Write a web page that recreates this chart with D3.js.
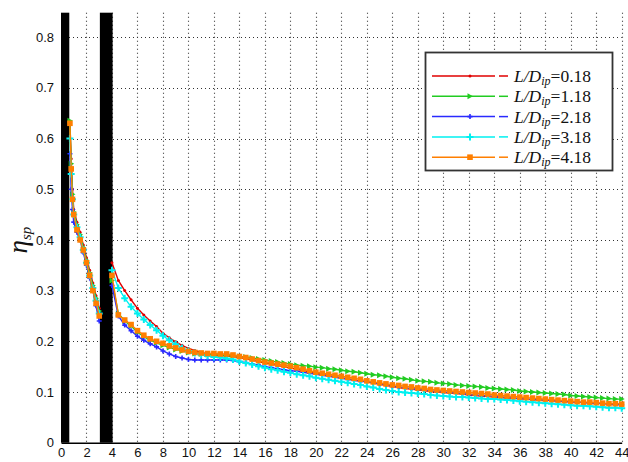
<!DOCTYPE html>
<html><head><meta charset="utf-8">
<script src="https://cdn.jsdelivr.net/npm/d3@7"></script>
<style>body{margin:0;background:#fff}svg{display:block}</style>
</head><body><svg id="c" width="628" height="462"></svg>
<script>
// ---------- data ----------
const seriesLabels = ["0.18","1.18","2.18","3.18","4.18"];
const xTickLabels = [0,2,4,6,8,10,12,14,16,18,20,22,24,26,28,30,32,34,36,38,40,42,44];
const yTickLabels = [0,0.1,0.2,0.3,0.4,0.5,0.6,0.7,0.8];
const blockedRanges = [[0,0.65],[3.05,4.05]];

// segment between the two blocked zones
const seg1X = [0.7,0.8,0.9,1.0,1.25,1.5,1.75,2.0,2.25,2.5,2.75,3.0];
const seg1Red    = [0.63,0.56,0.50,0.46,0.435,0.415,0.39,0.365,0.34,0.315,0.29,0.265];
const seg1Green  = [0.635,0.55,0.49,0.455,0.43,0.41,0.385,0.36,0.335,0.31,0.285,0.26];
const seg1Blue   = [0.57,0.50,0.46,0.435,0.415,0.40,0.375,0.35,0.325,0.30,0.27,0.24];
const seg1Cyan   = [0.60,0.53,0.48,0.45,0.425,0.405,0.38,0.355,0.33,0.305,0.28,0.255];
const seg1Orange = [0.63,0.54,0.48,0.45,0.42,0.40,0.38,0.355,0.33,0.30,0.275,0.25];

// segment after second blocked zone, x = 4, 4.5, ..., 44
const seg2X = d3.range(4, 44.001, 0.5);
const seg2Red = [0.355,0.320,0.300,0.282,0.265,0.252,0.240,0.229,0.216,0.207,0.199,0.192,0.186,0.182,0.178,0.175,0.173,0.172,0.171,0.170,0.168,0.166,0.163,0.160,0.157,0.155,0.152,0.150,0.147,0.145,0.142,0.140,0.137,0.135,0.132,0.130,0.128,0.126,0.124,0.122,0.120,0.118,0.115,0.113,0.111,0.109,0.107,0.106,0.104,0.103,0.101,0.100,0.099,0.098,0.097,0.096,0.094,0.093,0.092,0.091,0.090,0.089,0.088,0.088,0.087,0.086,0.085,0.084,0.084,0.083,0.082,0.081,0.081,0.080,0.079,0.079,0.078,0.077,0.077,0.076,0.076];
const seg2Green = [0.320,0.255,0.240,0.230,0.218,0.209,0.202,0.197,0.192,0.188,0.184,0.181,0.178,0.176,0.175,0.174,0.174,0.173,0.172,0.171,0.170,0.169,0.167,0.165,0.163,0.161,0.159,0.157,0.155,0.153,0.152,0.151,0.149,0.148,0.146,0.145,0.143,0.141,0.140,0.138,0.136,0.134,0.133,0.131,0.129,0.127,0.126,0.124,0.122,0.121,0.120,0.118,0.117,0.116,0.114,0.113,0.112,0.111,0.110,0.108,0.107,0.106,0.105,0.104,0.102,0.101,0.100,0.099,0.098,0.097,0.096,0.095,0.093,0.092,0.091,0.090,0.089,0.088,0.087,0.086,0.086];
const seg2Blue = [0.310,0.250,0.232,0.221,0.210,0.202,0.195,0.189,0.181,0.175,0.170,0.167,0.164,0.163,0.163,0.163,0.163,0.163,0.163,0.162,0.160,0.158,0.155,0.153,0.150,0.148,0.146,0.144,0.142,0.141,0.139,0.137,0.135,0.133,0.131,0.129,0.127,0.125,0.123,0.121,0.120,0.118,0.116,0.114,0.111,0.110,0.108,0.107,0.105,0.104,0.102,0.101,0.100,0.099,0.098,0.097,0.095,0.094,0.093,0.092,0.091,0.090,0.089,0.088,0.087,0.086,0.085,0.085,0.084,0.083,0.082,0.081,0.080,0.080,0.079,0.078,0.077,0.077,0.076,0.075,0.075];
const seg2Cyan = [0.340,0.305,0.285,0.268,0.255,0.243,0.232,0.222,0.211,0.202,0.194,0.187,0.181,0.177,0.173,0.171,0.169,0.168,0.166,0.164,0.160,0.157,0.154,0.151,0.148,0.145,0.143,0.140,0.138,0.135,0.133,0.131,0.128,0.126,0.124,0.122,0.120,0.118,0.116,0.114,0.111,0.109,0.106,0.104,0.102,0.100,0.099,0.098,0.097,0.096,0.094,0.093,0.092,0.091,0.090,0.090,0.089,0.088,0.087,0.086,0.086,0.085,0.084,0.083,0.082,0.081,0.080,0.079,0.078,0.077,0.076,0.075,0.074,0.073,0.073,0.072,0.071,0.070,0.069,0.069,0.068];
const seg2Orange = [0.330,0.252,0.242,0.233,0.221,0.212,0.205,0.200,0.196,0.191,0.187,0.183,0.180,0.178,0.177,0.176,0.176,0.175,0.175,0.173,0.170,0.168,0.165,0.162,0.159,0.157,0.155,0.153,0.151,0.148,0.145,0.142,0.139,0.137,0.135,0.133,0.131,0.129,0.127,0.125,0.122,0.120,0.118,0.116,0.114,0.113,0.111,0.110,0.108,0.107,0.105,0.104,0.103,0.102,0.101,0.100,0.099,0.098,0.097,0.096,0.094,0.093,0.092,0.091,0.090,0.089,0.088,0.087,0.086,0.085,0.084,0.083,0.082,0.081,0.080,0.080,0.079,0.078,0.077,0.077,0.076];

// ---------- styles ----------
const colors = ["#e00000","#22cc22","#2a2aff","#00f0f0","#ff7f00"];
const markers = ["dot","triR","star","plus","square"];

const series = seriesLabels.map((lab,i)=>({
  label: lab, color: colors[i], marker: markers[i],
  segs: [
    seg1X.map((x,j)=>({x, y:[seg1Red,seg1Green,seg1Blue,seg1Cyan,seg1Orange][i][j]})),
    seg2X.map((x,j)=>({x, y:[seg2Red,seg2Green,seg2Blue,seg2Cyan,seg2Orange][i][j]}))
  ]
}));

// ---------- layout ----------
const svg = d3.select("#c");
const X0 = 61, X1 = 621.7, Y0 = 442.7, Ytop = 12.7;
const x = d3.scaleLinear().domain([0,44]).range([X0,X1]);
const y = d3.scaleLinear().domain([0,0.8]).range([Y0, Y0 - 0.8*507]);
const fontSans = "'Liberation Sans', Arial, sans-serif";
const fontSerif = "'Liberation Serif', 'Times New Roman', serif";

// grid
const grid = svg.append("g").attr("stroke","#333").attr("stroke-width",1.1).attr("stroke-dasharray","1,3");
xTickLabels.filter(v=>v>0).forEach(v=>{
  grid.append("line").attr("x1",Math.round(x(v))+0.5).attr("x2",Math.round(x(v))+0.5)
    .attr("y1",Ytop).attr("y2",Y0);
});
yTickLabels.filter(v=>v>0).forEach(v=>{
  grid.append("line").attr("y1",Math.round(y(v))+0.5).attr("y2",Math.round(y(v))+0.5)
    .attr("x1",X0).attr("x2",X1);
});

// axes (bottom)
const xAxis = d3.axisBottom(x).tickValues(xTickLabels).tickSize(0).tickPadding(5).tickFormat(d3.format("d"));
const gx = svg.append("g").attr("transform",`translate(0,${Y0})`).call(xAxis);
gx.select(".domain").attr("stroke","#000").attr("stroke-width",1.6);
gx.selectAll("text").attr("font-family",fontSans).attr("font-size",13).attr("fill","#111");

const yAxis = d3.axisLeft(y).tickValues(yTickLabels).tickSize(0).tickPadding(7).tickFormat(d=>d===0?"0":d3.format(".1f")(d));
const gy = svg.append("g").attr("transform",`translate(${X0},0)`).call(yAxis);
gy.select(".domain").remove();
gy.selectAll("text").attr("font-family",fontSans).attr("font-size",13).attr("fill","#111");

// blocked zones
svg.append("g").selectAll("rect").data(blockedRanges).join("rect")
  .attr("x",d=>x(d[0])).attr("width",d=>x(d[1])-x(d[0]))
  .attr("y",Ytop).attr("height",Y0-Ytop).attr("fill","#000");

// marker drawing
function drawMarker(g, type, color, cx, cy){
  if(type==="dot"){
    g.append("circle").attr("cx",cx).attr("cy",cy).attr("r",1.5).attr("fill",color);
  } else if(type==="triR"){
    g.append("path").attr("d",`M${cx-2.5},${cy-3}L${cx+3},${cy}L${cx-2.5},${cy+3}Z`).attr("fill",color);
  } else if(type==="star"){
    g.append("path").attr("d",`M${cx-2.5},${cy}H${cx+2.5}M${cx},${cy-2.5}V${cy+2.5}`).attr("stroke",color).attr("stroke-width",1.6);
  } else if(type==="plus"){
    g.append("path").attr("d",`M${cx-3.5},${cy}H${cx+3.5}M${cx},${cy-3.5}V${cy+3.5}`).attr("stroke",color).attr("stroke-width",2);
  } else if(type==="square"){
    g.append("rect").attr("x",cx-2.8).attr("y",cy-2.8).attr("width",5.6).attr("height",5.6).attr("fill",color);
  }
}

// series
const line = d3.line().x(d=>x(d.x)).y(d=>y(d.y));
series.forEach(s=>{
  const g = svg.append("g");
  s.segs.forEach(seg=>{
    g.append("path").attr("d",line(seg)).attr("fill","none").attr("stroke",s.color).attr("stroke-width",1.4);
    seg.forEach(p=>drawMarker(g,s.marker,s.color,x(p.x),y(p.y)));
  });
});

// legend
const lg = svg.append("g");
lg.append("rect").attr("x",425.5).attr("y",52.5).attr("width",187).attr("height",118)
  .attr("fill","#fff").attr("stroke","#333").attr("stroke-width",1.8);
series.forEach((s,i)=>{
  const cy = 76 + i*20.3;
  lg.append("line").attr("x1",432).attr("x2",495).attr("y1",cy).attr("y2",cy).attr("stroke",s.color).attr("stroke-width",1.5);
  lg.append("line").attr("x1",499).attr("x2",508).attr("y1",cy).attr("y2",cy).attr("stroke",s.color).attr("stroke-width",1.5);
  drawMarker(lg,s.marker,s.color,470,cy);
  const t = lg.append("text").attr("x",514).attr("y",cy+6).attr("font-family",fontSerif).attr("font-size",17.5).attr("fill","#111");
  t.append("tspan").attr("font-style","italic").text("L/D");
  t.append("tspan").attr("font-style","italic").attr("font-size",12).attr("dy",3).text("ip");
  t.append("tspan").attr("dy",-3).text("="+s.label);
});

// y label
const yl = svg.append("text").attr("transform","translate(27,240) rotate(-90)")
  .attr("text-anchor","middle").attr("font-family",fontSerif).attr("font-style","italic").attr("font-size",27).attr("fill","#111");
yl.append("tspan").text("η");
yl.append("tspan").attr("font-size",15).attr("dy",4).text("sp");
</script>
</body></html>
